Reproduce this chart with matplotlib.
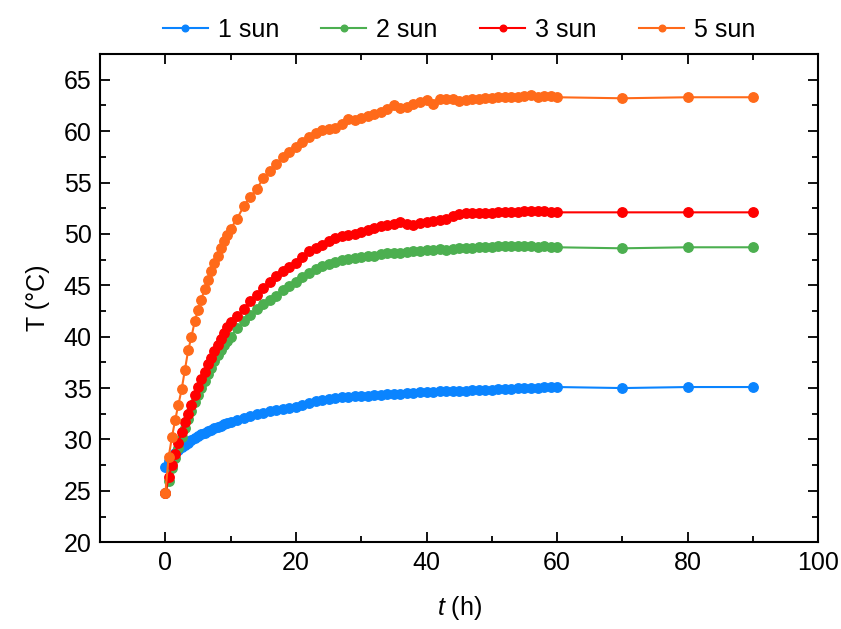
import matplotlib
matplotlib.use("Agg")
import matplotlib.pyplot as plt
from matplotlib.ticker import MultipleLocator

plt.rcParams['font.family'] = ['Liberation Sans', 'DejaVu Sans']
plt.rcParams['mathtext.fontset'] = 'custom'
plt.rcParams['mathtext.it'] = 'Liberation Sans:italic'
plt.rcParams['mathtext.rm'] = 'Liberation Sans'

# time (h): every 0.5 h up to 10 h, then hourly, then three late readings
t = [0, 0.5, 1, 1.5, 2, 2.5, 3, 3.5, 4, 4.5, 5, 5.5, 6, 6.5, 7, 7.5, 8, 8.5, 9, 9.5, 10,
     11, 12, 13, 14, 15, 16, 17, 18, 19, 20,
     21, 22, 23, 24, 25, 26, 27, 28, 29, 30,
     31, 32, 33, 34, 35, 36, 37, 38, 39, 40,
     41, 42, 43, 44, 45, 46, 47, 48, 49, 50,
     51, 52, 53, 54, 55, 56, 57, 58, 59, 60,
     70, 80, 90]

T_1sun = [27.3, 27.9, 28.4, 28.7, 29.0, 29.3, 29.5, 29.7, 29.9, 30.1, 30.3, 30.5, 30.6, 30.8, 30.9, 31.1, 31.2, 31.3, 31.5, 31.6, 31.7,
          31.9, 32.1, 32.3, 32.5, 32.6, 32.8, 32.9, 33.0, 33.1, 33.2,
          33.4, 33.5, 33.7, 33.8, 33.9, 34.0, 34.1, 34.1, 34.2, 34.2,
          34.2, 34.3, 34.3, 34.4, 34.4, 34.4, 34.5, 34.5, 34.6, 34.6,
          34.6, 34.7, 34.7, 34.7, 34.7, 34.7, 34.8, 34.8, 34.8, 34.8,
          34.9, 34.9, 34.9, 35.0, 35.0, 35.0, 35.0, 35.1, 35.1, 35.1,
          35.0, 35.1, 35.1]

T_2sun = [24.8, 26.0, 27.2, 28.2, 29.2, 30.2, 31.1, 32.0, 32.8, 33.6, 34.3, 35.0, 35.7, 36.4, 37.0, 37.6, 38.2, 38.7, 39.2, 39.6, 40.0,
          40.8, 41.5, 42.1, 42.7, 43.2, 43.6, 44.0, 44.5, 44.9, 45.3,
          45.8, 46.2, 46.6, 46.9, 47.1, 47.3, 47.5, 47.6, 47.7, 47.8,
          47.9, 47.9, 48.0, 48.1, 48.1, 48.1, 48.2, 48.3, 48.3, 48.4,
          48.4, 48.5, 48.4, 48.5, 48.6, 48.6, 48.6, 48.7, 48.7, 48.7,
          48.8, 48.8, 48.8, 48.8, 48.8, 48.8, 48.7, 48.8, 48.7, 48.7,
          48.6, 48.7, 48.7]

T_3sun = [24.8, 26.3, 27.5, 28.6, 29.7, 30.7, 31.7, 32.5, 33.4, 34.3, 35.1, 35.9, 36.6, 37.3, 37.9, 38.6, 39.2, 39.8, 40.4, 40.9, 41.4,
          42.0, 42.7, 43.5, 44.1, 44.7, 45.3, 45.9, 46.4, 46.8, 47.2,
          47.8, 48.3, 48.6, 48.9, 49.3, 49.6, 49.8, 49.9, 50.0, 50.2,
          50.4, 50.6, 50.8, 50.9, 51.0, 51.2, 51.0, 50.9, 51.1, 51.2,
          51.3, 51.4, 51.5, 51.7, 51.9, 52.0, 52.0, 52.0, 52.0, 52.0,
          52.1, 52.1, 52.1, 52.1, 52.2, 52.2, 52.2, 52.2, 52.1, 52.1,
          52.1, 52.1, 52.1]

T_5sun = [24.8, 28.3, 30.2, 31.9, 33.4, 34.9, 36.8, 38.7, 40.0, 41.5, 42.6, 43.6, 44.6, 45.5, 46.4, 47.2, 47.9, 48.6, 49.3, 49.9, 50.5,
          51.5, 52.7, 53.6, 54.4, 55.4, 56.1, 56.8, 57.5, 58.0, 58.5,
          58.9, 59.4, 59.8, 60.1, 60.2, 60.3, 60.7, 61.2, 61.1, 61.3,
          61.5, 61.7, 61.9, 62.2, 62.5, 62.3, 62.4, 62.6, 62.8, 63.0,
          62.6, 63.1, 63.1, 63.1, 62.9, 63.0, 63.1, 63.1, 63.2, 63.2,
          63.3, 63.3, 63.3, 63.3, 63.4, 63.5, 63.3, 63.4, 63.4, 63.3,
          63.2, 63.3, 63.3]

series = [("1 sun", T_1sun, "#0a84ff"),
          ("2 sun", T_2sun, "#4caf50"),
          ("3 sun", T_3sun, "#ff0000"),
          ("5 sun", T_5sun, "#ff6a1a")]

fig = plt.figure(figsize=(8.41, 6.29), dpi=100)
ax = fig.add_axes([0.119, 0.138, 0.854, 0.776])

for name, vals, col in series:
    ax.plot(t, vals, '-o', color=col, lw=1.5, ms=6.8, label=name)

ax.set_xlim(-10, 100)
ax.set_ylim(20, 67.5)
ax.xaxis.set_major_locator(MultipleLocator(20))
ax.xaxis.set_minor_locator(MultipleLocator(10))
ax.yaxis.set_major_locator(MultipleLocator(5))
ax.yaxis.set_minor_locator(MultipleLocator(2.5))
ax.tick_params(which='both', direction='in', top=True, right=True, width=1.3, labelsize=18)
ax.tick_params(which='major', length=7, pad=6)
ax.tick_params(which='minor', length=4)
for s in ax.spines.values():
    s.set_linewidth(1.5)

ax.set_xlabel(r'$t$ (h)', fontsize=18, labelpad=14)
ax.set_ylabel('T (°C)', fontsize=18, labelpad=10)

ax.legend(loc='lower center', bbox_to_anchor=(0.5, 0.995), ncol=4, frameon=False,
          fontsize=18, handlelength=1.8, handletextpad=0.4, columnspacing=1.7,
          markerscale=0.7, borderaxespad=0.2)

fig.savefig('out.png', dpi=100)
